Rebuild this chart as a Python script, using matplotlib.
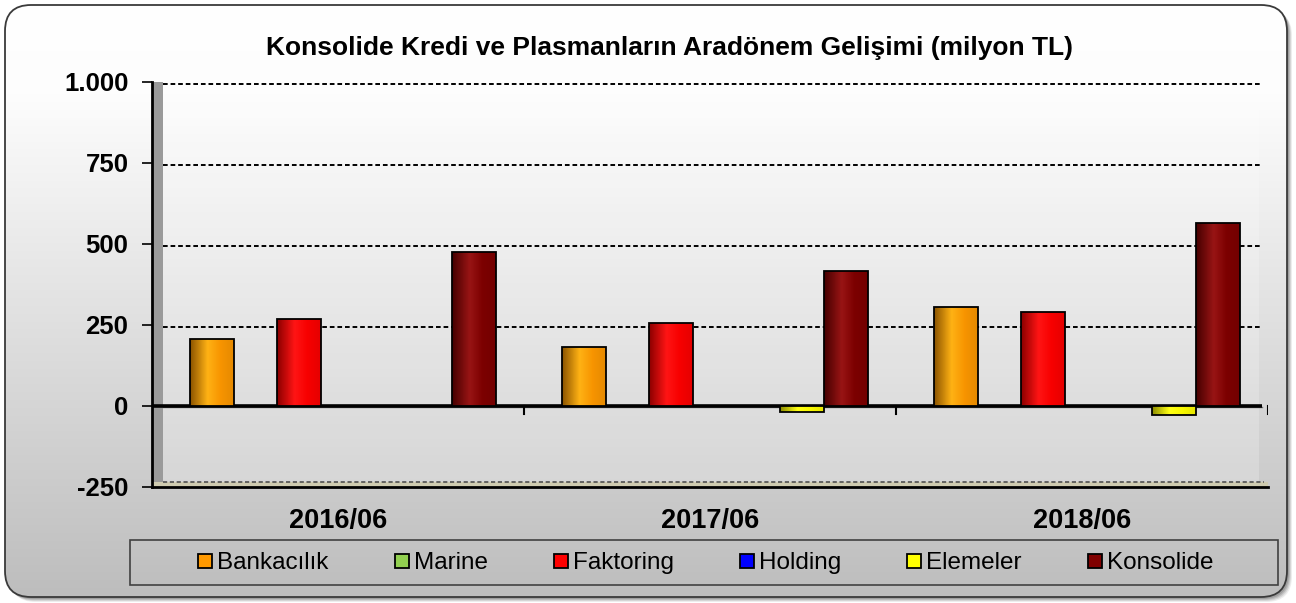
import numpy as np
import matplotlib
matplotlib.use("Agg")
import matplotlib.pyplot as plt
from matplotlib.patches import FancyBboxPatch, Rectangle
from matplotlib.lines import Line2D
from matplotlib.colors import LinearSegmentedColormap, to_rgb

plt.rcParams['font.family'] = ['Liberation Sans', 'DejaVu Sans']

# ---------------- data ----------------
title = 'Konsolide Kredi ve Plasmanların Aradönem Gelişimi (milyon TL)'
categories = ['2016/06', '2017/06', '2018/06']
series_names = ['Bankacılık', 'Marine', 'Faktoring', 'Holding', 'Elemeler', 'Konsolide']
bankacilik = [206, 181, 304]
marine = [0, 0, 0]
faktoring = [268, 254, 289]
holding = [0, 0, 0]
elemeler = [0, -19, -28]
konsolide = [473, 415, 564]
yticks = [-250, 0, 250, 500, 750, 1000]
ytick_labels = ['-250', '0', '250', '500', '750', '1.000']

series_values = [bankacilik, marine, faktoring, holding, elemeler, konsolide]
colors = ['#FF9900', '#92D050', '#FF0000', '#0000FF', '#FFFF00', '#800000']
slots = [0, 1, 2, 3, 5, 6]  # cluster layout of 7 slots (one slot unused)

# ---------------- figure ----------------
W, H = 1296, 603
fig = plt.figure(figsize=(W / 100, H / 100), dpi=100)

bg = fig.add_axes([0, 0, 1, 1])
bg.set_xlim(0, W)
bg.set_ylim(H, 0)
bg.axis('off')

# shadow
for d, a in [(5, 0.10), (4, 0.15), (3, 0.2), (2, 0.25)]:
    sh = FancyBboxPatch((5 + d, 5 + d), 1282, 592, boxstyle='round,pad=0,rounding_size=26',
                        fc='#505050', ec='none', alpha=a, zorder=0)
    bg.add_patch(sh)

box = FancyBboxPatch((5, 5), 1282, 592, boxstyle='round,pad=0,rounding_size=26',
                     fc='none', ec='#3a3a3a', lw=1.3, zorder=2)
bg.add_patch(box)
bg_cmap = LinearSegmentedColormap.from_list('bgc', [(0, '#ffffff'), (0.15, '#fdfdfd'), (1, '#bdbdbd')])
grad = np.linspace(0, 1, 256)[:, None]
im = bg.imshow(grad, extent=(5, 1287, 597, 5), aspect='auto', cmap=bg_cmap, zorder=1)
im.set_clip_path(box)
bg.set_xlim(0, W)
bg.set_ylim(H, 0)

# legend frame
bg.add_patch(Rectangle((130, 540), 1148, 45, fc='none', ec='#404040', lw=1.2, zorder=3))

# title
fig.text(669.5 / W, 1 - 48 / H, title, ha='center', va='center', fontsize=19, fontweight='bold')

# ---------------- main axes ----------------
ax_left, ax_right = 152, 1268
ax_top, ax_bot = 81.7, 486.7
ax = fig.add_axes([ax_left / W, 1 - ax_bot / H, (ax_right - ax_left) / W, (ax_bot - ax_top) / H])
ax.patch.set_alpha(0)

px_x = 3.0 / (ax_right - ax_left)          # data units per pixel (x)
px_y = 1250.0 / (ax_bot - ax_top)          # data units per pixel (y)

wall = 11 * px_x
# back wall (slightly lighter)
ax.add_patch(Rectangle((wall, -250 + 4 * px_y), 2.975 - wall, 1250, fc='white', ec='none', alpha=0.22, zorder=0.5))
# left side wall
ax.add_patch(Rectangle((0, -250), wall, 1250, fc='#9a9a9a', ec='none', zorder=1))
# floor
ax.add_patch(Rectangle((0, -250), 3.0, 5 * px_y, fc='#cfcbb0', ec='none', zorder=1))
ax.plot([wall, 2.99], [-250 + 4.5 * px_y] * 2, color='#505050', lw=1.2, ls=(0, (2.5, 1.6)), zorder=1.2)

# grid lines
for yv in yticks[2:]:
    ax.plot([wall, 2.978], [yv - 2 * px_y] * 2, color='black', lw=1.4, ls=(0, (2.4, 1.5)), zorder=1.5)

# zero line
ax.plot([0, 2.985], [0, 0], color='black', lw=2.6, zorder=2, solid_capstyle='butt')
ax.plot([wall, 2.985], [-1.6 * px_y] * 2, color='#707070', lw=1.0, zorder=1.9)
for gx in range(1, len(categories) + 1):
    ax.plot([gx, gx], [0, -8 * px_y], color='black', lw=1.5, zorder=2)

# bars
step = 43.7 * px_x
off0 = 59.5 * px_x
bw = 44 * px_x
xg = np.arange(len(categories))


def shade(c, f):
    r = np.array(to_rgb(c))
    return tuple(np.clip(r * f, 0, 1))


def light(c):
    r = np.array(to_rgb(c))
    r = np.clip(r * 1.12, 0, 1)
    r = r + (1 - r) * 0.08
    return tuple(r)


for name, vals, col, sl in zip(series_names, series_values, colors, slots):
    xs = xg + off0 + sl * step
    cm = LinearSegmentedColormap.from_list('c' + name, [(0, shade(col, 0.55)), (0.4, light(col)),
                                                        (0.7, shade(col, 0.97)), (1, shade(col, 0.9))])
    bars = ax.bar(xs, vals, width=bw, fc='none', ec='black', lw=1.3, zorder=4)
    for rect, v in zip(bars, vals):
        if v == 0:
            continue
        x0 = rect.get_x()
        y0, y1 = min(0, v), max(0, v)
        bim = ax.imshow(np.linspace(0, 1, 64)[None, :], extent=(x0, x0 + bw, y0, y1),
                        aspect='auto', cmap=cm, zorder=3, interpolation='bilinear')
        bim.set_clip_path(rect)

ax.set_xlim(0, 3)
ax.set_ylim(-250, 1000)

# axes styling
for s in ['top', 'right']:
    ax.spines[s].set_visible(False)
ax.spines['left'].set_linewidth(2)
ax.spines['bottom'].set_linewidth(2)
ax.spines['left'].set_zorder(5)
ax.set_yticks(yticks, ytick_labels)
ax.tick_params(axis='y', length=7, width=1.2, pad=10, labelsize=18.5)
for t in ax.get_yticklabels():
    t.set_fontweight('bold')
ax.set_xticks(xg + 0.5, categories)
ax.tick_params(axis='x', length=0, pad=15, labelsize=19.5)
for t in ax.get_xticklabels():
    t.set_fontweight('bold')

# legend
handles = [Line2D([], [], marker='s', ls='none', mfc=c, mec='black', mew=1.3, ms=9.5) for c in colors]
fig.legend(handles, series_names, loc='center', bbox_to_anchor=(705 / W, 1 - 563 / H), ncol=6,
           frameon=False, fontsize=17.5, handletextpad=0.15, columnspacing=2.65, handlelength=0.7)

fig.savefig('out.png', dpi=100)
